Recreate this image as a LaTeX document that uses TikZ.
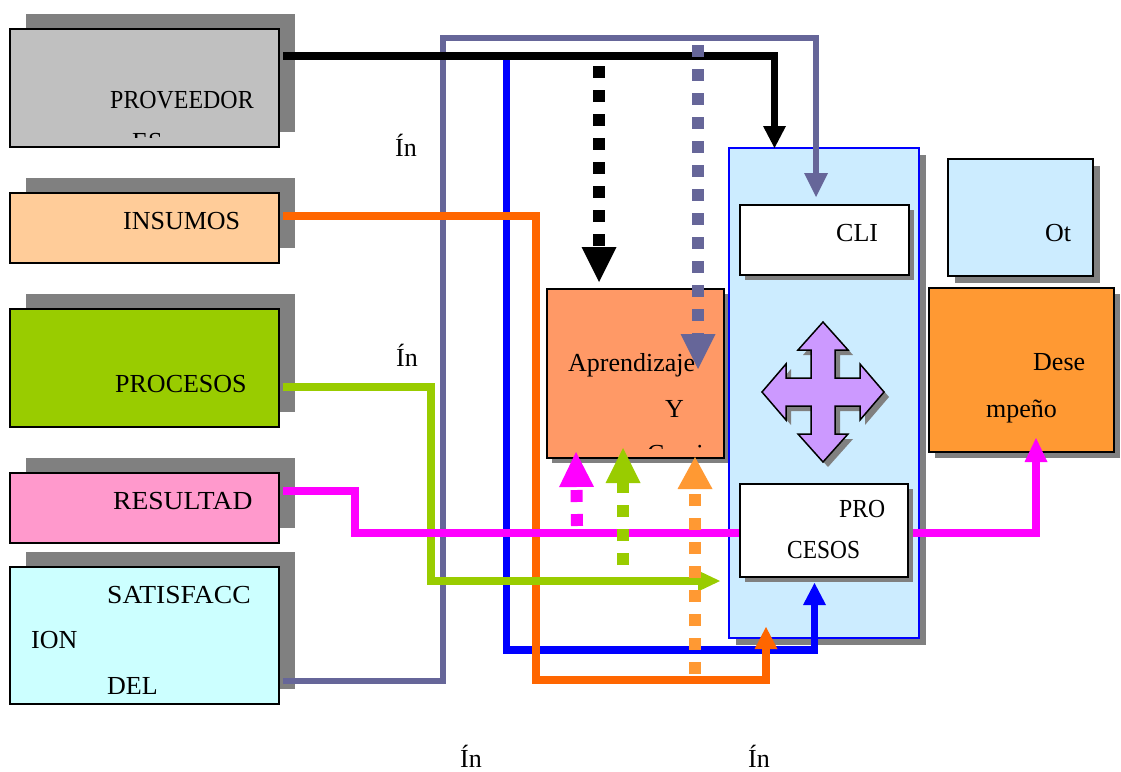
\documentclass[tikz,border=0pt]{standalone}
\usepackage{fontspec}
\usepackage{graphicx}
\setmainfont{Liberation Serif}
\usetikzlibrary{arrows.meta,shadows,calc}
\definecolor{shadowgray}{HTML}{808080}
\definecolor{provfill}{HTML}{C0C0C0}
\definecolor{insfill}{HTML}{FFCC99}
\definecolor{procfill}{HTML}{99CC00}
\definecolor{resfill}{HTML}{FF99CC}
\definecolor{satfill}{HTML}{CCFFFF}
\definecolor{aprfill}{HTML}{FF9966}
\definecolor{bigfill}{HTML}{CCECFF}
\definecolor{desfill}{HTML}{FF9933}
\definecolor{crossfill}{HTML}{CC99FF}
\definecolor{linegray}{HTML}{666699}
\definecolor{lineorange}{HTML}{FF6600}
\definecolor{linegreen}{HTML}{99CC00}
\definecolor{linemag}{HTML}{FF00FF}
\definecolor{lineblue}{HTML}{0000FF}
\definecolor{dashorange}{HTML}{FF9933}
\tikzset{
  box/.style={draw=black, line width=1.8pt, inner sep=0pt, outer sep=0pt, anchor=north west},
  lshadow/.style={drop shadow={shadow xshift=16pt, shadow yshift=15pt, fill=shadowgray, opacity=1}},
  rshadow/.style={drop shadow={shadow xshift=#1, shadow yshift=-#1, fill=shadowgray, opacity=1}},
  txt/.style={inner sep=0pt, anchor=base west, font=\fontsize{26}{30}\selectfont},
  conn/.style={line width=7.3pt},
  dconn/.style={line width=12pt, dash pattern=on 12pt off 12pt},
  stip/.style={-{Triangle[width=23pt,length=22pt,line width=0pt]}},
  dtip/.style={-{Triangle[width=35pt,length=35pt,line width=0pt]}},
  crossshape/.pic={\path[pic actions] (0,-70) -- (25,-42) -- (12,-42) -- (12,-14) -- (37,-14) -- (37,-28) -- (61,0) -- (37,28) -- (37,14) -- (12,14) -- (12,42) -- (25,42) -- (0,70) -- (-25,42) -- (-12,42) -- (-12,14) -- (-37,14) -- (-37,28) -- (-61,0) -- (-37,-28) -- (-37,-14) -- (-12,-14) -- (-12,-42) -- (-25,-42) -- cycle;}
}
\begin{document}
\begin{tikzpicture}[x=1pt,y=-1pt]
\useasboundingbox (0,0) rectangle (1121,771);
\fill[white] (0,0) rectangle (1121,771);

% left boxes
\node[box, lshadow, fill=provfill, minimum width=269pt, minimum height=118pt] (prov) at (10,29) {};
\node[box, lshadow, fill=insfill, minimum width=269pt, minimum height=70pt] (ins) at (10,193) {};
\node[box, lshadow, fill=procfill, minimum width=269pt, minimum height=118pt] (proc) at (10,309) {};
\node[box, lshadow, fill=resfill, minimum width=269pt, minimum height=70pt] (res) at (10,473) {};
\node[box, lshadow, fill=satfill, minimum width=269pt, minimum height=137pt] (sat) at (10,567) {};

% right boxes
\node[box, rshadow=5pt, fill=aprfill, minimum width=177pt, minimum height=169pt] (apr) at (547,289) {};
\node[box, rshadow=7pt, draw=lineblue, line width=1.4pt, fill=bigfill, minimum width=190pt, minimum height=490pt] (big) at (729,148) {};
\node[box, rshadow=7pt, fill=bigfill, minimum width=145pt, minimum height=117pt] (ot) at (948,159) {};
\node[box, rshadow=6pt, fill=desfill, minimum width=185pt, minimum height=164pt] (des) at (929,288) {};

% texts of left boxes
\node[txt] (tprov) at (110,108) {\scalebox{0.92}[1]{PROVEEDOR}};
\begin{scope}
\clip (20,60) rectangle (270,137);
\node[txt] (tes) at (132,150) {ES};
\end{scope}
\node[txt] (tins) at (123,229) {INSUMOS};
\node[txt] (tproc) at (115,392) {PROCESOS};
\node[txt] (tres) at (113,509) {\scalebox{1.06}[1]{RESULTAD}};
\node[txt] (tsat1) at (107,603) {\scalebox{1.06}[1]{SATISFACC}};
\node[txt] (tsat2) at (31,648) {ION};
\begin{scope}
\clip (20,575) rectangle (270,693);
\node[txt] (tsat3) at (107,694) {DEL};
\end{scope}

% texts of right boxes
\node[txt] (tapr1) at (568,371) {Aprendizaje};
\node[txt] (tapr2) at (665,417) {Y};
\begin{scope}
\clip (555,300) rectangle (718,448);
\node[txt] (tapr3) at (647,462) {Crecimiento};
\end{scope}
\node[txt] (tot) at (1045,241) {Ot};
\node[txt] (tdes1) at (1033,370) {Dese};
\node[txt] (tdes2) at (986,417) {mpeño};

% loose labels
\node[txt] (in1) at (395,156) {Ín};
\node[txt] (in2) at (396,366) {Ín};
\node[txt] (in3) at (460,767) {Ín};
\node[txt] (in4) at (748,767) {Ín};

% coordinates of bends and free ends
\coordinate (g1) at (443,681);
\coordinate (g2) at (443,37.5);
\coordinate (bk1) at (774.5,56);
\coordinate (bl0) at (506.3,60);
\coordinate (bl1) at (506.3,650);
\coordinate (o1) at (536,216);
\coordinate (o2) at (536,680);
\coordinate (gr1) at (431,387);
\coordinate (gr2) at (431,581);
\coordinate (gtip) at (720,581);
\coordinate (m1) at (355,491);
\coordinate (m2) at (355,533);
\coordinate (kd0) at (599,66);
\coordinate (gd0) at (698,45);
\coordinate (gd1) at (698,369);
\coordinate (md0) at (577,526);
\coordinate (grd0) at (623,565);
\coordinate (od0) at (695,674);

% solid connectors
\draw[conn, line width=6pt, linegray, -{Triangle[width=24pt,length=24pt,line width=0pt]}] ([xshift=4pt]sat.east |- g1) -- (g1) -- (g2) -| ($(big.north)+(-8,49)$);
\draw[conn, lineblue, stip] (bl0) -- (bl1) -| ($(big.south)+(-9.5,-55)$);
\draw[conn, lineorange, stip] ([xshift=4pt]ins.east |- o1) -- (o1) -- (o2) -| ($(big.south)+(-58,-11)$);
\draw[conn, black, stip] ([xshift=4pt]prov.east |- bk1) -- (bk1) -- (big.north -| bk1);
\draw[conn, linegreen, -{Triangle[width=21pt,length=22pt,line width=0pt]}] ([xshift=4pt]proc.east |- gr1) -- (gr1) -- (gr2) -- (gtip);
\draw[conn, linemag, -{Triangle[width=23pt,length=24pt,line width=0pt]}] ([xshift=4pt]res.east |- m1) -- (m1) -- (m2) -| ($(des.south)+(14.5,-14)$);

% dashed connectors (on top of the solid ones)
\draw[dconn, linegray, dtip] (gd0) -- (gd1);
\draw[dconn, black, dtip] (kd0) -- ($(apr.north)+(-36.5,-7)$);
\draw[dconn, linemag, dtip] (md0) -- ($(apr.south)+(-59.5,-6)$);
\draw[dconn, linegreen, dtip] (grd0) -- ($(apr.south)+(-12.5,-10)$);
\draw[dconn, dashorange, -{Triangle[width=35pt,length=32pt,line width=0pt]}] (od0) -- ($(apr.south)+(59.5,-1)$);

% inner boxes
\node[box, rshadow=5pt, fill=white, minimum width=169pt, minimum height=70pt] (cli) at (740,205) {};
\node[box, rshadow=5pt, fill=white, minimum width=168pt, minimum height=93pt] (procb) at (740,484) {};
\node[txt] (tcli) at (836,241) {CLI};
\node[txt] (tpb1) at (839,517) {\scalebox{0.91}[1]{PRO}};
\node[txt] (tpb2) at (787,558) {\scalebox{0.9}[1]{CESOS}};

% four-way arrow
\pic[fill=shadowgray] at (828,397) {crossshape};
\pic[fill=crossfill, draw=black, line width=1.5pt] at (823,392) {crossshape};
\end{tikzpicture}
\end{document}
